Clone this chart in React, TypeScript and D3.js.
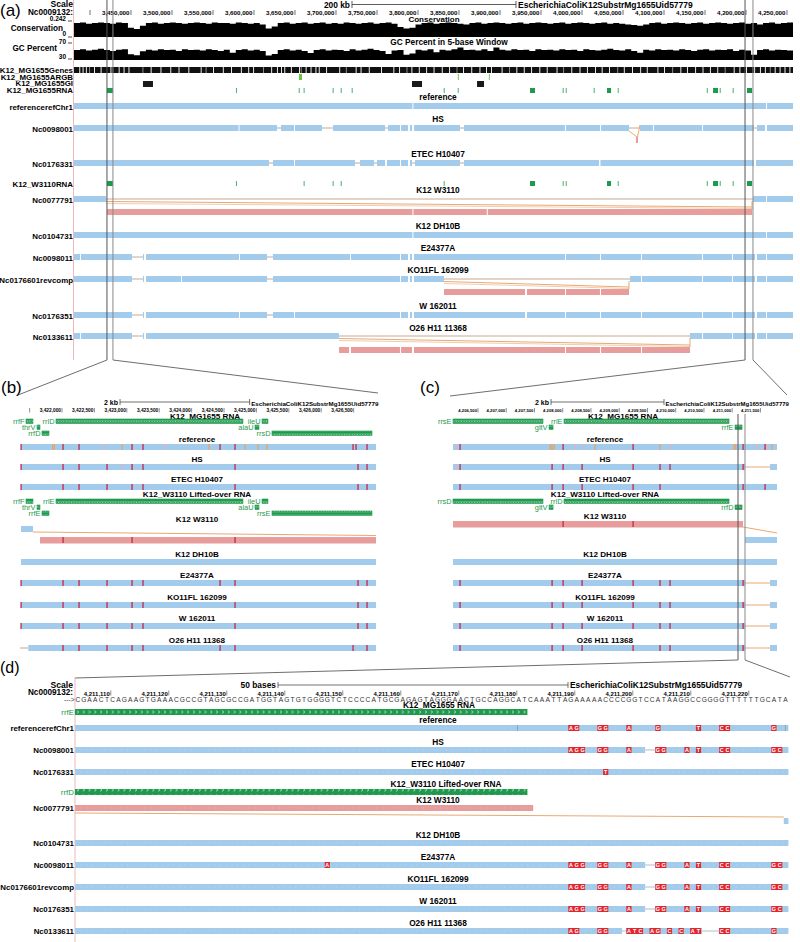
import React from 'react';
import * as d3 from 'd3';

const FONT = "'Liberation Sans', Arial, Helvetica, sans-serif";
const BLUE = '#a3cbec';
const PINK = '#e89d9d';
const ORANGE = '#e9a872';
const ORANGE2 = '#f1cdb0';
const GAPLINE = '#c7a996';
const GREEN = '#1e9a4c';
const LGREEN = '#6cc24a';
const RED = '#e0262e';
const CONN = '#6e6e6e';
const MIS: Record<string, string> = { r: '#c4284a', o: '#e6a564', p: '#e3b0bb' };

// ================= Panel (a) data (kb) =================
const aDomainKb = [3380.5, 4257.3];
const aTicksKb = [3400, 3450, 3500, 3550, 3600, 3650, 3700, 3750, 3800, 3850, 3900, 3950, 4000, 4050, 4100, 4150, 4200, 4250];
const aScaleBarKb = [3719.5, 3919.5];
const conservation = [
  0.21, 0.22, 0.20, 0.21, 0.22, 0.21, 0.20, 0.22, 0.21, 0.14, 0.12, 0.17, 0.21, 0.22, 0.20, 0.21, 0.22, 0.21, 0.20, 0.21,
  0.22, 0.21, 0.20, 0.22, 0.21, 0.21, 0.20, 0.22, 0.21, 0.20, 0.21, 0.19, 0.13, 0.16, 0.21, 0.22, 0.20, 0.21, 0.22, 0.20,
  0.21, 0.22, 0.20, 0.21, 0.20, 0.22, 0.21, 0.20, 0.21, 0.22, 0.20, 0.21, 0.22, 0.20, 0.15, 0.13, 0.14, 0.19, 0.21, 0.22,
  0.20, 0.21, 0.22, 0.21, 0.20, 0.19, 0.21, 0.22, 0.20, 0.21, 0.22, 0.21, 0.20, 0.21, 0.22, 0.20, 0.21, 0.22, 0.21, 0.20,
  0.21, 0.22, 0.20, 0.21, 0.22, 0.21, 0.20, 0.21, 0.22, 0.20, 0.21, 0.20, 0.19, 0.18, 0.17, 0.19, 0.21, 0.22, 0.20, 0.21,
  0.22, 0.21, 0.20, 0.21, 0.22, 0.20, 0.21, 0.22, 0.21, 0.20, 0.21, 0.22, 0.20, 0.21, 0.19, 0.21, 0.22, 0.20, 0.21, 0.22,
];
const gcPercent = [
  51, 53, 50, 52, 54, 51, 49, 52, 53, 41, 39, 48, 52, 50, 53, 51, 52, 49, 53, 51,
  52, 50, 53, 51, 49, 52, 45, 51, 53, 50, 52, 49, 38, 42, 51, 53, 50, 52, 49, 44,
  51, 53, 50, 52, 51, 49, 53, 50, 52, 54, 51, 49, 42, 50, 51, 40, 43, 52, 50, 53,
  46, 52, 50, 53, 57, 51, 52, 50, 53, 49, 57, 52, 50, 53, 51, 52, 49, 53, 51, 52,
  50, 53, 51, 52, 49, 53, 51, 50, 52, 54, 51, 50, 53, 49, 45, 52, 50, 53, 51, 52,
  50, 53, 51, 49, 52, 53, 50, 52, 51, 53, 49, 52, 50, 40, 51, 53, 50, 52, 51, 50,
];
const genesGapKb = [3387, 3391, 3395, 3399, 3405, 3413, 3425, 3435, 3441, 3447, 3464, 3474, 3486, 3498, 3508, 3520, 3535, 3541, 3550, 3562, 3572, 3584, 3593, 3599, 3611, 3621, 3628, 3633, 3637, 3645, 3655, 3657, 3663, 3669, 3675, 3679, 3688, 3704, 3712, 3724, 3730, 3740, 3755, 3770, 3777, 3786, 3792, 3801, 3810, 3819, 3829, 3838, 3847, 3855, 3865, 3875, 3883, 3889, 3902, 3911, 3920, 3929, 3938, 3948, 3957, 3969, 3977, 3987, 3997, 4006, 4016, 4024, 4033, 4043, 4051, 4061, 4071, 4079, 4092, 4100, 4110, 4120, 4128, 4138, 4147, 4156, 4165, 4174, 4185, 4192, 4200, 4210, 4217, 4223, 4229, 4235, 4241, 4247, 4253];
const argbKb = [[3654.9, 3658.5], [3848.6, 3849.4], [3886.4, 3887.2]];
const giKb = [[3464.6, 3476.8], [3792.7, 3804.9], [3872.0, 3880.5]];
const mg1655RnaKb = [[3420.7, 3428.0], [3578.0, 3578.8], [3654.6, 3655.4], [3660.6, 3661.4], [3696.0, 3696.8], [3705.8, 3706.6], [3719.2, 3720.0], [3831.4, 3832.2], [3848.5, 3849.3], [3936.6, 3942.7], [3976.5, 3977.3], [3980.2, 3981.0], [4014.3, 4015.1], [4030.5, 4035.4], [4043.6, 4044.4], [4152.2, 4153.0], [4159.8, 4165.9], [4168.0, 4168.8], [4183.8, 4184.6], [4201.2, 4207.3]];
const w3110RnaKb = [[3420.7, 3428.0], [3578.0, 3578.8], [3660.6, 3661.4], [3696.0, 3696.8], [3705.8, 3706.6], [3831.4, 3832.2], [3936.6, 3942.7], [3976.5, 3977.3], [3980.2, 3981.0], [4030.5, 4035.4], [4043.6, 4044.4], [4152.2, 4153.0], [4159.8, 4165.9], [4168.0, 4168.8], [4183.8, 4184.6], [4201.2, 4207.3]];

const genomeIds = ['referencerefChr1', 'Nc0098001', 'Nc0176331', 'Nc0077791', 'Nc0104731', 'Nc0098011', 'Nc0176601revcomp', 'Nc0176351', 'Nc0133611'];
const strainNames = ['reference', 'HS', 'ETEC H10407', 'K12 W3110', 'K12 DH10B', 'E24377A', 'KO11FL 162099', 'W 162011', 'O26 H11 11368'];

const aRef = [[3380.5, 3793.2], [3794.4, 4224.4], [4225.6, 4257.3]];
const aHS = [[3380.5, 3581.1], [3582.3, 3628.0], [3632.9, 3648.8], [3650.0, 3682.9], [3696.3, 3759.8], [3763.4, 3778.0], [3779.3, 3787.8], [3790.2, 3792.7], [3795.1, 3851.2], [3856.1, 3979.3], [3980.5, 4021.9], [4023.2, 4057.3], [4070.7, 4086.6], [4087.8, 4146.3], [4147.5, 4209.8], [4213.4, 4223.2], [4225.6, 4257.3]];
const aHSInsertion = [4057.3, 4070.7, 4065.8, 4068.3];
const aETEC = [[3380.5, 3618.3], [3623.2, 3648.8], [3650.0, 3723.2], [3729.3, 3746.4], [3750.0, 3759.8], [3762.2, 3778.0], [3779.3, 3787.8], [3790.2, 3792.7], [3796.3, 3851.2], [3856.1, 4020.7], [4022.5, 4209.8], [4212.2, 4257.3]];
const aW3110 = [[3380.5, 3419.5], [4208.5, 4224.4], [4225.6, 4257.3]];
const aW3110Inv = [[3420.7, 3793.2], [3794.4, 3883.9], [3885.1, 4207.3]];
const aDH10B = [[3380.5, 3793.2], [3794.4, 4224.4], [4225.6, 4257.3]];
const aE24377A = [[3380.5, 3387.8], [3389.0, 3451.2], [3464.6, 3465.9], [3468.3, 3581.7], [3582.9, 3615.9], [3623.2, 3717.1], [3718.3, 3778.0], [3779.3, 3787.8], [3790.2, 3792.7], [3795.1, 3979.3], [3980.5, 4021.9], [4023.2, 4072.0], [4073.2, 4146.3], [4147.5, 4182.9], [4184.1, 4211.0], [4213.4, 4224.4], [4225.6, 4257.3]];
const aKO11FL = [[3380.5, 3451.2], [3464.6, 3465.9], [3468.3, 3511.0], [3512.2, 3615.9], [3623.2, 3778.0], [3779.3, 3787.8], [3790.2, 3792.7], [3795.1, 3831.7], [4058.5, 4072.0], [4073.2, 4146.3], [4147.5, 4182.9], [4184.1, 4211.0], [4213.4, 4224.4], [4225.6, 4257.3]];
const aKO11FLInv = [[3831.7, 3930.5], [3932.9, 3979.3], [3980.5, 4021.9], [4023.2, 4057.3]];
const aW = [[3380.5, 3451.2], [3464.6, 3465.9], [3468.3, 3581.7], [3582.9, 3615.9], [3623.2, 3648.8], [3650.0, 3778.0], [3779.3, 3787.8], [3790.2, 3792.7], [3795.1, 3930.5], [3932.9, 3979.3], [3980.5, 4021.9], [4023.2, 4072.0], [4073.2, 4146.3], [4147.5, 4182.9], [4184.1, 4211.0], [4213.4, 4224.4], [4225.6, 4257.3]];
const aO26 = [[3380.5, 3387.8], [3389.0, 3451.2], [3464.6, 3465.9], [3468.3, 3703.7], [4131.7, 4146.3], [4147.5, 4182.9], [4184.1, 4211.0], [4213.4, 4224.4], [4225.6, 4257.3]];
const aO26Inv = [[3703.7, 3715.9], [3718.3, 3778.0], [3779.3, 3792.7], [3795.1, 3979.3], [3980.5, 4021.9], [4023.2, 4072.0], [4073.2, 4131.7]];
const aZoomB = [3420.7, 3428.0];
const aZoomC = [4198.8, 4208.5];

// ================= Panel (b) data (bp) =================
const bDomain = [3421367, 3426845];
const bTicks = d3.range(3421500, 3427000, 500);
const bScaleBar = [3422895, 3424895];
const bMgNames = ['rrfF', 'rrlD', 'thrV', 'rrfD', 'ileU', 'alaU', 'rrsD'];
const bW3Names = ['rrfF', 'rrlE', 'thrV', 'rrfE', 'ileU', 'alaU', 'rrsE'];
const bRnaStart = [3421444, 3421907, 3421614, 3421691, 3425086, 3424978, 3425240];
const bRnaEnd = [3421552, 3424792, 3421660, 3421799, 3425178, 3425039, 3426783];
const bRnaLane = [0, 0, 1, 2, 0, 1, 2];
const bMisRef = [[3421367, 'r'], [3421855, 'o'], [3421880, 'o'], [3422015, 'r'], [3422262, 'r'], [3422663, 'p'], [3422925, 'o'], [3423080, 'r'], [3423249, 'r'], [3423589, 'p'], [3424268, 'o'], [3424438, 'r'], [3424669, 'r'], [3424823, 'o'], [3425024, 'o'], [3425163, 'o'], [3426490, 'r'], [3426536, 'r'], [3426706, 'r']];
const bMisHS = [[3421367, 'r'], [3422015, 'r'], [3422262, 'r'], [3422694, 'r'], [3422925, 'p'], [3423080, 'r'], [3423249, 'r'], [3424669, 'r'], [3426567, 'r'], [3426706, 'r']];
const bMisETEC = [[3421367, 'r'], [3422015, 'r'], [3422262, 'r'], [3422694, 'r'], [3423080, 'r'], [3423249, 'r'], [3424669, 'r'], [3426567, 'r'], [3426706, 'r']];
const bMisW3110 = [[3422015, 'r'], [3423080, 'r'], [3424669, 'r']];
const bMisDH10B: any[] = [];
const bMisE = [[3421367, 'r'], [3422015, 'r'], [3422262, 'r'], [3422694, 'r'], [3423080, 'r'], [3423249, 'r'], [3424438, 'r'], [3424669, 'r'], [3426567, 'r'], [3426706, 'r']];
const bMisKO = [[3421367, 'r'], [3422015, 'r'], [3422262, 'r'], [3422694, 'r'], [3423080, 'r'], [3423249, 'r'], [3424669, 'r'], [3426567, 'r'], [3426706, 'r']];
const bMisW = [[3421367, 'r'], [3422015, 'r'], [3422262, 'r'], [3422694, 'r'], [3423080, 'r'], [3423249, 'r'], [3424669, 'r'], [3426567, 'r'], [3426706, 'r']];
const bMisO26 = [[3422015, 'r'], [3422262, 'r'], [3422694, 'r'], [3423080, 'r'], [3423249, 'r'], [3424438, 'r'], [3424669, 'r'], [3426490, 'r'], [3426706, 'r']];
const bFull = [[3421367, 3426845]];
const bW3110 = [[3421367, 3421552]];
const bW3110Inv = [[3421660, 3426845]];
const bO26 = [[3421480, 3426845]];

// ================= Panel (c) data (bp) =================
const cDomain = [4206058, 4211793];
const cTicks = d3.range(4206500, 4212000, 500);
const cScaleBar = [4207793, 4209793];
const cMgNames = ['rrsE', 'rrlE', 'gltV', 'rrfE'];
const cW3Names = ['rrsD', 'rrlD', 'gltV', 'rrfD'];
const cRnaStart = [4206058, 4208023, 4207758, 4211050];
const cRnaEnd = [4207651, 4210944, 4207829, 4211174];
const cRnaLane = [0, 0, 1, 1];
const cMisRef = [[4206129, 'p'], [4206182, 'r'], [4207780, 'o'], [4207811, 'o'], [4207850, 'o'], [4208006, 'r'], [4208218, 'p'], [4208342, 'p'], [4208572, 'o'], [4209245, 'r'], [4209722, 'o'], [4209899, 'p'], [4211030, 'o'], [4211060, 'o'], [4211192, 'r'], [4211439, 'p'], [4211581, 'r'], [4211620, 'p'], [4211705, 'o']];
const cMisHS = [[4206129, 'p'], [4206182, 'r'], [4207811, 'r'], [4208006, 'r'], [4208342, 'r'], [4209245, 'r'], [4209722, 'r'], [4209899, 'r'], [4211192, 'r']];
const cMisETEC = [[4206182, 'r'], [4207811, 'r'], [4208006, 'r'], [4208342, 'r'], [4209245, 'r'], [4209722, 'r'], [4211192, 'r'], [4211581, 'r']];
const cMisW3110 = [[4208006, 'r'], [4209245, 'r']];
const cMisDH10B: any[] = [];
const cMisE = [[4206182, 'r'], [4207811, 'r'], [4208006, 'r'], [4208342, 'r'], [4209245, 'r'], [4209722, 'r'], [4209899, 'r'], [4211192, 'r']];
const cFull = [[4206058, 4211793]];
const cTail = [[4206058, 4211227], [4211669, 4211793]];
const cW3110Inv = [[4206058, 4211192]];
const cW3110 = [[4211227, 4211793]];

// ================= Panel (d) data (bp) =================
const dStart = 4211104;
const dEnd = 4211227;
const dTicks = d3.range(4211110, 4211221, 10);
const dScaleBar = [4211139, 4211189];
const dSequence = 'CGAACTCAGAAGTGAAACGCCGTAGCGCCGATGGTAGTGTGGGGTCTCCCCATGCGAGAGTAGGGAACTGCCAGGCATCAAATTAGAAAAACCCCGGTCCATAAGGCCGGGGTTTTTTGCATA';
const dRrfE = [4211104, 4211182];
const dRefVar = [[4211189, 'AG'], [4211194, 'GG'], [4211199, 'A'], [4211204, 'G'], [4211211, 'T'], [4211215, 'CC'], [4211224, 'G']];
const dRefTicks = [4211180.2, 4211226.4];
const dHSVar = [[4211189, 'AGG'], [4211194, 'GG'], [4211199, 'A'], [4211204, 'GG'], [4211209, 'A'], [4211211, 'T'], [4211215, 'CC'], [4211224, 'GC']];
const dHSDel = [[4211202.3, 4211204]];
const dETECVar = [[4211195, 'T']];
const dEVar = [[4211147, 'A'], [4211189, 'AGG'], [4211194, 'GG'], [4211199, 'A'], [4211204, 'GG'], [4211209, 'A'], [4211211, 'T'], [4211215, 'CC'], [4211224, 'GC']];
const dO26Var = [[4211189, 'AG'], [4211194, 'GG'], [4211199, 'ATC'], [4211203, 'AG'], [4211206, 'C'], [4211208, 'C'], [4211210, 'AT'], [4211215, 'CC'], [4211224, 'G']];
const dO26Del = [[4211198.3, 4211199.1], [4211212.1, 4211215]];
const dW3110Inv = [4211104, 4211183];
const dW3110Tail = [4211226.2, 4211227];

// ================= helpers =================
type Sc = d3.ScaleLinear<number, number>;
const LABEL_SIZE = 7.9;

function Blocks({ blocks, x, y, h, fill, line, minGap = 2.5 }: any) {
  const out: any[] = [];
  for (let i = 1; i < blocks.length; i++) {
    const x0 = x(blocks[i - 1][1]);
    const x1 = x(blocks[i][0]);
    if (x1 - x0 > minGap) out.push(<line key={'g' + i} x1={x0} x2={x1} y1={y + h / 2} y2={y + h / 2} stroke={line || GAPLINE} strokeWidth={1} />);
  }
  blocks.forEach((b: number[], i: number) => {
    out.push(<rect key={'b' + i} x={x(b[0])} y={y} width={Math.max(0.8, x(b[1]) - x(b[0]))} height={h} fill={fill} />);
  });
  return <g>{out}</g>;
}

function InvLinks({ x, s, e, barBottom, pinkTop }: any) {
  return (
    <g>
      <line x1={x(s)} y1={barBottom - 0.5} x2={x(e)} y2={pinkTop - 2} stroke={ORANGE} strokeWidth={1} />
      <line x1={x(s)} y1={barBottom + 1.5} x2={x(e)} y2={pinkTop - 0.5} stroke={ORANGE2} strokeWidth={1} />
      <line x1={x(e)} y1={barBottom - 1} x2={x(e)} y2={pinkTop} stroke={ORANGE} strokeWidth={1} />
    </g>
  );
}

const T = (p: any) => <text fontFamily={FONT} fontWeight="bold" fill="#000" {...p} />;

// ================= Panel A =================
function PanelA() {
  const x: Sc = d3.scaleLinear().domain(aDomainKb).range([74, 793]);
  const fmt = d3.format(',');
  const nb = conservation.length;
  const binW = (aDomainKb[1] - aDomainKb[0]) / nb;
  const yC = d3.scaleLinear().domain([0, 0.242]).range([37, 21]);
  const yG = d3.scaleLinear().domain([30, 70]).range([59, 42]);
  const consPts = [...conservation, conservation[nb - 1]];
  const gcPts = [...gcPercent, gcPercent[nb - 1]];
  const areaC = d3.area<number>().x((_, i) => x(aDomainKb[0] + i * binW)).y0(37).y1((d) => yC(d)).curve(d3.curveStepAfter);
  const areaG = d3.area<number>().x((_, i) => x(aDomainKb[0] + i * binW)).y0(60).y1((d) => yG(d)).curve(d3.curveStepAfter);
  const barY = [103, 125, 160, 196, 232, 254, 276, 312, 333];
  const titleY = [100, 122, 157, 193, 229, 251, 273, 309, 331];
  const rowBlocks = [aRef, aHS, aETEC, aW3110, aDH10B, aE24377A, aKO11FL, aW, aO26];
  const H = 6;
  const lab = (txt: string, y: number, k: string) => (
    <T key={k} x={73} y={y} fontSize={LABEL_SIZE} textAnchor="end">{txt}</T>
  );
  return (
    <g>
      <line x1={73.5} x2={73.5} y1={0} y2={360} stroke="#f1b9b9" strokeWidth={1} />
      <text x={0} y={16} fontFamily={FONT} fontSize={17}>(a)</text>
      <T x={73} y={7} fontSize={8.6} textAnchor="end">Scale</T>
      <T x={73} y={14.5} fontSize={8.2} textAnchor="end">Nc0009132:</T>
      <T x={x(aScaleBarKb[0]) - 2} y={7.5} fontSize={8.4} textAnchor="end">200 kb</T>
      <line x1={x(aScaleBarKb[0])} x2={x(aScaleBarKb[1])} y1={4.5} y2={4.5} stroke="#333" strokeWidth={0.8} />
      <line x1={x(aScaleBarKb[0])} x2={x(aScaleBarKb[0])} y1={1} y2={8} stroke="#333" strokeWidth={0.8} />
      <line x1={x(aScaleBarKb[1])} x2={x(aScaleBarKb[1])} y1={1} y2={8} stroke="#333" strokeWidth={0.8} />
      <T x={x(aScaleBarKb[1]) + 2} y={7.8} fontSize={8.5}>EscherichiaColiK12SubstrMg1655Uid57779</T>
      {aTicksKb.map((t) => (
        <g key={'at' + t}>
          <line x1={x(t)} x2={x(t)} y1={10} y2={15} stroke="#333" strokeWidth={0.7} />
          {t >= 3450 && <T x={x(t) - 1.5} y={14.8} fontSize={6.2} textAnchor="end">{fmt(t * 1000)}</T>}
        </g>
      ))}
      <T x={434} y={21.6} fontSize={8} textAnchor="middle">Conservation</T>
      <path d={areaC(consPts) || ''} fill="#000" />
      <T x={66} y={21} fontSize={6.5} textAnchor="end">0.242</T>
      <line x1={68} x2={72} y1={21} y2={21} stroke="#000" strokeWidth={0.7} />
      <T x={63} y={31} fontSize={LABEL_SIZE + 0.3} textAnchor="end">Conservation</T>
      <T x={66} y={36} fontSize={6.5} textAnchor="end">0</T>
      <line x1={68} x2={72} y1={37} y2={37} stroke="#000" strokeWidth={0.7} />
      <T x={449} y={45} fontSize={8.3} textAnchor="middle">GC Percent in 5-base Window</T>
      <path d={areaG(gcPts) || ''} fill="#000" />
      <T x={66} y={43.5} fontSize={6.5} textAnchor="end">70</T>
      <line x1={68} x2={72} y1={43} y2={43} stroke="#000" strokeWidth={0.7} />
      <T x={57} y={51} fontSize={LABEL_SIZE + 0.3} textAnchor="end">GC Percent</T>
      <T x={66} y={59} fontSize={6.5} textAnchor="end">30</T>
      <line x1={68} x2={72} y1={59} y2={59} stroke="#000" strokeWidth={0.7} />
      {lab('K12_MG1655Genes', 72.5, 'lg')}
      <rect x={74} y={67} width={719} height={6} fill="#111" />
      {genesGapKb.map((g, i) => (
        <rect key={'gg' + i} x={x(g)} y={67} width={0.9} height={6} fill={i % 7 === 3 ? '#999' : '#fff'} />
      ))}
      {lab('K12_MG1655ARGB', 79.5, 'la')}
      {argbKb.map((d, i) => (
        <rect key={'ar' + i} x={x(d[0])} y={74} width={Math.max(0.9, x(d[1]) - x(d[0]))} height={6} fill={LGREEN} />
      ))}
      {lab('K12_MG1655GI', 86.3, 'lgi')}
      {giKb.map((d, i) => (
        <rect key={'gi' + i} x={x(d[0])} y={81} width={x(d[1]) - x(d[0])} height={6} fill="#1a1a1a" />
      ))}
      {lab('K12_MG1655RNA', 93.2, 'lr')}
      {mg1655RnaKb.map((d, i) => (
        <rect key={'rn' + i} x={x(d[0])} y={88} width={Math.max(0.8, x(d[1]) - x(d[0]))} height={5} fill={GREEN} />
      ))}
      {lab('K12_W3110RNA', 187, 'lw')}
      {w3110RnaKb.map((d, i) => (
        <rect key={'wr' + i} x={x(d[0])} y={181} width={Math.max(0.8, x(d[1]) - x(d[0]))} height={5} fill={GREEN} />
      ))}
      {rowBlocks.map((bl, i) => (
        <g key={'ar' + i}>
          <T x={438} y={titleY[i]} fontSize={8.3} textAnchor="middle">{strainNames[i]}</T>
          {lab(genomeIds[i], barY[i] + 6.5, 'rl' + i)}
          <Blocks blocks={bl} x={x} y={barY[i]} h={H} fill={BLUE} />
        </g>
      ))}
      <line x1={x(aHSInsertion[0])} y1={barY[1] + 6} x2={x(aHSInsertion[2]) + 1} y2={barY[1] + 12} stroke={ORANGE} strokeWidth={1} />
      <line x1={x(aHSInsertion[1])} y1={barY[1]} x2={x(aHSInsertion[3]) - 0.5} y2={barY[1] + 12} stroke={ORANGE} strokeWidth={1} />
      <rect x={x(aHSInsertion[2])} y={barY[1] + 12} width={x(aHSInsertion[3]) - x(aHSInsertion[2])} height={6} fill={PINK} />
      <InvLinks x={x} s={aW3110[0][1]} e={aW3110Inv[aW3110Inv.length - 1][1]} barBottom={barY[3] + 6} pinkTop={barY[3] + 13} />
      <Blocks blocks={aW3110Inv} x={x} y={barY[3] + 13} h={H} fill={PINK} />
      <InvLinks x={x} s={aKO11FLInv[0][0]} e={aKO11FLInv[aKO11FLInv.length - 1][1]} barBottom={barY[6] + 6} pinkTop={barY[6] + 13} />
      <Blocks blocks={aKO11FLInv} x={x} y={barY[6] + 13} h={H} fill={PINK} />
      <InvLinks x={x} s={aO26Inv[0][0]} e={aO26Inv[aO26Inv.length - 1][1]} barBottom={barY[8] + 6} pinkTop={barY[8] + 14} />
      <Blocks blocks={aO26Inv} x={x} y={barY[8] + 14} h={H} fill={PINK} />
      {[aZoomB[0], aZoomB[1], aZoomC[0], aZoomC[1]].map((v, i) => (
        <line key={'zl' + i} x1={x(v)} x2={x(v)} y1={0} y2={360} stroke={i % 2 === 0 ? '#555' : '#888'} strokeWidth={1} />
      ))}
    </g>
  );
}

// ================= Panels B & C =================
function Mis({ list, x, y }: any) {
  return (
    <g>
      {list.map((m: any, i: number) => (
        <rect key={i} x={x(m[0]) - 0.6} y={y} width={1.3} height={6} fill={MIS[m[1]]} />
      ))}
    </g>
  );
}

function RnaTrack({ names, starts, ends, lanes, x, y, keyP }: any) {
  return (
    <g>
      {names.map((n: string, i: number) => {
        const x0 = x(starts[i]);
        const x1 = x(ends[i]);
        const yy = y + lanes[i] * 6;
        return (
          <g key={keyP + i}>
            <rect x={x0} y={yy} width={Math.max(2, x1 - x0)} height={4.5} fill="url(#hatch)" stroke={GREEN} strokeWidth={0.6} />
            <text x={x0 - 1.5} y={yy + 4.6} fontFamily={FONT} fontSize={7.4} fill={GREEN} textAnchor="end">{n}</text>
          </g>
        );
      })}
    </g>
  );
}

function PanelZoom({ cfg }: any) {
  const x: Sc = d3.scaleLinear().domain(cfg.domain).range(cfg.range);
  const fmt = d3.format(',');
  const barY = [444, 464, 484, 526, 559, 580, 602, 623, 645];
  const titleY = [442, 461.5, 481.5, 522, 556.5, 577.5, 599.5, 620.5, 642.5];
  const tx = cfg.titleX;
  return (
    <g>
      <text x={cfg.labelX} y={393} fontFamily={FONT} fontSize={17}>{cfg.label}</text>
      <T x={x(cfg.scale[0]) - 2} y={405} fontSize={7} textAnchor="end">2 kb</T>
      <line x1={x(cfg.scale[0])} x2={x(cfg.scale[1])} y1={402} y2={402} stroke="#333" strokeWidth={0.7} />
      <line x1={x(cfg.scale[0])} x2={x(cfg.scale[0])} y1={399} y2={405} stroke="#333" strokeWidth={0.7} />
      <line x1={x(cfg.scale[1])} x2={x(cfg.scale[1])} y1={399} y2={405} stroke="#333" strokeWidth={0.7} />
      <T x={x(cfg.scale[1]) + 1.5} y={405.5} fontSize={cfg.escSize}>EscherichiaColiK12SubstrMg1655Uid57779</T>
      {cfg.ticks.map((t: number, i: number) => (
        <g key={'t' + t}>
          <line x1={x(t)} x2={x(t)} y1={408} y2={412.5} stroke="#444" strokeWidth={0.6} />
          {(cfg.labelFirst || i > 0) && <T x={x(t) - 1} y={412} fontSize={cfg.tickSize} textAnchor="end">{fmt(t)}</T>}
        </g>
      ))}
      <T x={cfg.rnaTitleX} y={418.5} fontSize={8.1} textAnchor="middle">K12_MG1655 RNA</T>
      <RnaTrack names={cfg.mgNames} starts={cfg.rnaStart} ends={cfg.rnaEnd} lanes={cfg.rnaLane} x={x} y={419} keyP="m" />
      <T x={tx} y={496.5} fontSize={8.1} textAnchor="middle">K12_W3110 Lifted-over RNA</T>
      <RnaTrack names={cfg.w3Names} starts={cfg.rnaStart} ends={cfg.rnaEnd} lanes={cfg.rnaLane} x={x} y={499} keyP="w" />
      {cfg.rows.map((r: any, i: number) => (
        <g key={'r' + i}>
          <T x={tx} y={titleY[i] + (r.titleDy || 0)} fontSize={8.1} textAnchor="middle">{strainNames[i]}</T>
          {r.blocks && <Blocks blocks={r.blocks} x={x} y={barY[i] + (r.dy || 0)} h={6} fill={BLUE} line={r.line} minGap={2} />}
          {r.inv && <Blocks blocks={r.inv} x={x} y={barY[i] + r.invDy} h={6.5} fill={PINK} />}
          <Mis list={r.mis} x={x} y={barY[i] + (r.misDy || 0)} />
        </g>
      ))}
      {cfg.extra(x)}
      {cfg.vlines && cfg.vlines.map((v: number, i: number) => (
        <line key={'v' + i} x1={v} x2={v} y1={414} y2={660} stroke={i === 0 ? '#555' : '#888'} strokeWidth={1} />
      ))}
    </g>
  );
}

const bCfg = {
  domain: bDomain, range: [21, 376], label: '(b)', labelX: 1, titleX: 197, rnaTitleX: 205,
  scale: bScaleBar, ticks: bTicks, tickSize: 4.8, escSize: 6.2, labelFirst: false,
  mgNames: bMgNames, w3Names: bW3Names, rnaStart: bRnaStart, rnaEnd: bRnaEnd, rnaLane: bRnaLane,
  rows: [
    { blocks: bFull, mis: bMisRef },
    { blocks: bFull, mis: bMisHS },
    { blocks: bFull, mis: bMisETEC },
    { blocks: bW3110, inv: bW3110Inv, invDy: 11, mis: bMisW3110, misDy: 11 },
    { blocks: bFull, mis: bMisDH10B },
    { blocks: bFull, mis: bMisE },
    { blocks: bFull, mis: bMisKO },
    { blocks: bFull, mis: bMisW },
    { blocks: bO26, mis: bMisO26 },
  ],
  extra: (x: Sc) => (
    <g>
      <line x1={x(bW3110[0][1])} y1={532} x2={x(bDomain[1])} y2={535.5} stroke={ORANGE} strokeWidth={1} />
      <line x1={x(bDomain[0]) - 1} y1={648} x2={x(bO26[0][0])} y2={648} stroke={GAPLINE} strokeWidth={1} />
    </g>
  ),
};

const cCfg = {
  domain: cDomain, range: [453, 777], label: '(c)', labelX: 420, titleX: 605, rnaTitleX: 623,
  scale: cScaleBar, ticks: cTicks, tickSize: 4.2, escSize: 6.0, labelFirst: true,
  mgNames: cMgNames, w3Names: cW3Names, rnaStart: cRnaStart, rnaEnd: cRnaEnd, rnaLane: cRnaLane,
  vlines: [738, 745],
  rows: [
    { blocks: cFull, mis: cMisRef },
    { blocks: cTail, mis: cMisHS, line: ORANGE },
    { blocks: cFull, mis: cMisETEC },
    { inv: cW3110Inv, invDy: -5, blocks: cW3110, dy: 11, mis: cMisW3110, misDy: -5, titleDy: -3 },
    { blocks: cFull, mis: cMisDH10B },
    { blocks: cTail, mis: cMisE, line: ORANGE },
    { blocks: cTail, mis: cMisE, line: ORANGE },
    { blocks: cTail, mis: cMisE, line: ORANGE },
    { blocks: cTail, mis: cMisE, line: ORANGE },
  ],
  extra: (x: Sc) => (
    <g>
      <line x1={x(cW3110Inv[0][1])} y1={527} x2={x(cDomain[1])} y2={533} stroke={ORANGE} strokeWidth={1} />
    </g>
  ),
};

// ================= Panel D =================
function PanelD() {
  const x: Sc = d3.scaleLinear().domain([dStart, dEnd]).range([75, 75 + (dEnd - dStart) * 5.8]);
  const fmt = d3.format(',');
  const barY = [725, 747, 769, 805, 840, 862, 884, 906, 928];
  const titleY = [722.5, 744.5, 766.5, 803, 837.5, 859.5, 881.5, 903.5, 925.5];
  const vars: any[] = [dRefVar, dHSVar, dETECVar, [], [], dEVar, dHSVar, dHSVar, dO26Var];
  const dels: any[] = [[], dHSDel, [], [], [], dHSDel, dHSDel, dHSDel, dO26Del];
  const lab = (txt: string, y: number, k: string, fill = '#000', bold = true) => (
    <text key={k} x={74} y={y} fontFamily={FONT} fontWeight={bold ? 'bold' : 'normal'} fontSize={LABEL_SIZE} fill={fill} textAnchor="end">{txt}</text>
  );
  const bar = (y: number, k: string, fill = BLUE, x0 = dStart, x1 = dEnd) => (
    <g key={k}>
      <rect x={x(x0)} y={y} width={x(x1) - x(x0)} height={6} fill={fill} />
      <line x1={x(x0)} x2={x(x1)} y1={y + 3} y2={y + 3} stroke="#fff" strokeOpacity={0.55} strokeWidth={0.6} strokeDasharray="0.8 5" />
    </g>
  );
  return (
    <g>
      <line x1={75} x2={75} y1={677} y2={942} stroke="#f1b9b9" strokeWidth={1} />
      <text x={0} y={673} fontFamily={FONT} fontSize={16}>(d)</text>
      <T x={73} y={688} fontSize={8.6} textAnchor="end">Scale</T>
      <T x={73} y={694.5} fontSize={8.2} textAnchor="end">Nc0009132:</T>
      <T x={x(dScaleBar[0]) - 2} y={688} fontSize={8.4} textAnchor="end">50 bases</T>
      <line x1={x(dScaleBar[0])} x2={x(dScaleBar[1])} y1={685} y2={685} stroke="#333" strokeWidth={0.7} />
      <line x1={x(dScaleBar[0])} x2={x(dScaleBar[0])} y1={682} y2={688} stroke="#333" strokeWidth={0.7} />
      <line x1={x(dScaleBar[1])} x2={x(dScaleBar[1])} y1={682} y2={688} stroke="#333" strokeWidth={0.7} />
      <T x={x(dScaleBar[1]) + 2} y={688} fontSize={8.4}>EscherichiaColiK12SubstrMg1655Uid57779</T>
      {dTicks.map((t) => (
        <g key={'dt' + t}>
          <line x1={x(t) + 1} x2={x(t) + 1} y1={690.5} y2={695.5} stroke="#444" strokeWidth={0.6} />
          <T x={x(t)} y={695.5} fontSize={6} textAnchor="end">{fmt(t)}</T>
        </g>
      ))}
      <text x={74.5} y={701.8} fontFamily={FONT} fontSize={6.6} fill="#333" textAnchor="end">{'--->'}</text>
      {dSequence.split('').map((c, i) => (
        <text key={'s' + i} x={x(dStart + i + 0.5)} y={701.8} fontFamily={FONT} fontSize={6.6} fill="#333" textAnchor="middle">{c}</text>
      ))}
      <T x={439} y={708} fontSize={8.3} textAnchor="middle">K12_MG1655 RNA</T>
      {lab('rrfE', 714.5, 'rrfE', GREEN, false)}
      <rect x={x(dRrfE[0])} y={709} width={x(dRrfE[1]) - x(dRrfE[0])} height={6} fill="url(#chev)" />
      <T x={446} y={787} fontSize={8.3} textAnchor="middle">K12_W3110 Lifted-over RNA</T>
      {lab('rrfD', 794.5, 'rrfD', GREEN, false)}
      <rect x={x(dRrfE[0])} y={789} width={x(dRrfE[1]) - x(dRrfE[0])} height={6} fill="url(#chev)" />
      {strainNames.map((s, i) => (
        <T key={'dtt' + i} x={438} y={titleY[i]} fontSize={8.3} textAnchor="middle">{s}</T>
      ))}
      {genomeIds.map((g, i) => lab(g, barY[i] + 6.2, 'dl' + i))}
      {barY.map((y, i) => {
        if (i === 3) {
          return (
            <g key="w3">
              {bar(y, 'w3b', PINK, dW3110Inv[0], dW3110Inv[1])}
              <line x1={x(dStart)} y1={813} x2={x(dW3110Tail[0])} y2={817} stroke={ORANGE} strokeWidth={1} />
              <rect x={x(dW3110Tail[0])} y={818} width={x(dW3110Tail[1]) - x(dW3110Tail[0])} height={6} fill={BLUE} />
            </g>
          );
        }
        return (
          <g key={'db' + i}>
            {bar(y, 'bar' + i)}
            {dels[i].map((d: number[], j: number) => (
              <g key={'del' + j}>
                <rect x={x(d[0])} y={y - 0.5} width={x(d[1]) - x(d[0])} height={7} fill="#fff" />
                <line x1={x(d[0])} x2={x(d[1])} y1={y + 3} y2={y + 3} stroke="#8aa" strokeWidth={0.7} />
              </g>
            ))}
            {i === 0 && dRefTicks.map((t, j) => (
              <rect key={'rt' + j} x={x(t)} y={y} width={0.9} height={6} fill="#999" />
            ))}
            {vars[i].map((v: any, j: number) => {
              const x0 = x(v[0]);
              const x1 = x(v[0] + v[1].length);
              return (
                <g key={'v' + j}>
                  <rect x={x0 + 0.3} y={y} width={x1 - x0 - 0.6} height={6} fill={RED} />
                  {v[1].split('').map((c: string, k: number) => (
                    <text key={k} x={x(v[0] + k + 0.5)} y={y + 5.2} fontFamily={FONT} fontWeight="bold" fontSize={5.4} fill="#fff" textAnchor="middle">{c}</text>
                  ))}
                </g>
              );
            })}
          </g>
        );
      })}
    </g>
  );
}

export default function App() {
  return (
    <svg width={800} height={942} style={{ position: 'absolute', left: 0, top: 0, background: '#fff' }}>
      <defs>
        <pattern id="hatch" patternUnits="userSpaceOnUse" width={2.6} height={4.5} x={0} y={419}>
          <rect width={2.6} height={4.5} fill={GREEN} />
          <path d="M0.4,1 L2.2,3.5 M2.2,1 L0.4,3.5" stroke="#fff" strokeWidth={0.45} strokeOpacity={0.8} />
        </pattern>
        <pattern id="chev" patternUnits="userSpaceOnUse" width={5.8} height={6} x={75} y={709}>
          <rect width={5.8} height={6} fill={GREEN} />
          <path d="M2,1.6 L3.8,3 L2,4.4" stroke="#fff" strokeWidth={0.6} fill="none" />
        </pattern>
      </defs>
      <rect width={800} height={942} fill="#fff" />
      <PanelA />
      <line x1={107} y1={360} x2={18} y2={395} stroke={CONN} strokeWidth={1} />
      <line x1={113} y1={360} x2={378} y2={393} stroke={CONN} strokeWidth={1} />
      <line x1={745} y1={360} x2={450} y2={396} stroke={CONN} strokeWidth={1} />
      <line x1={753} y1={360} x2={787} y2={395} stroke={CONN} strokeWidth={1} />
      <PanelZoom cfg={bCfg} />
      <PanelZoom cfg={cCfg} />
      <line x1={738} y1={660} x2={75} y2={678} stroke={CONN} strokeWidth={1} />
      <line x1={745} y1={660} x2={790} y2={677} stroke={CONN} strokeWidth={1} />
      <PanelD />
    </svg>
  );
}
